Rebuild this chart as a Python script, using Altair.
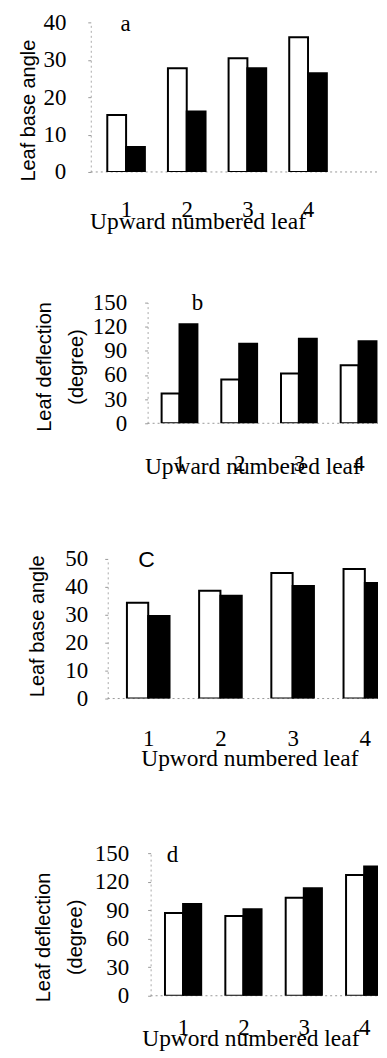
import altair as alt
import pandas as pd

leaves = [1, 2, 3, 4]
series = ["open", "filled"]

# panel a: leaf base angle
a_open = [15.2, 27.7, 30.4, 36.0]
a_filled = [6.7, 16.2, 27.7, 26.4]
# panel b: leaf deflection (degree)
b_open = [37, 54.5, 62, 72]
b_filled = [123, 99, 105, 102]
# panel c: leaf base angle
c_open = [34.3, 38.6, 45.0, 46.4]
c_filled = [29.6, 36.8, 40.3, 41.4]
# panel d: leaf deflection (degree)
d_open = [87, 84, 103, 127]
d_filled = [96.5, 91, 113, 136]

a_ticks = [0, 10, 20, 30, 40]
b_ticks = [0, 30, 60, 90, 120, 150]
c_ticks = [0, 10, 20, 30, 40, 50]
d_ticks = [0, 30, 60, 90, 120, 150]

SERIF = "Liberation Serif"
SANS = "Liberation Sans"
W = 288      # common plot width (all panels' plot areas start at the same x)
LEFT = 90    # page x of the common plot origin


def panel(open_vals, filled_vals, ticks, ymax, cfg):
    df = pd.DataFrame({
        "leaf": leaves * 2,
        "series": [series[0]] * 4 + [series[1]] * 4,
        "value": open_vals + filled_vals,
    })
    dx = cfg["plotx"] - LEFT
    step, g, c1 = cfg["step"], cfg["g"], cfg["c1"]
    xdom = [1 - (c1 - LEFT) / step, 1 + (LEFT + W - c1) / step]
    xscale = alt.Scale(domain=xdom, nice=False, zero=False)
    yscale = alt.Scale(domain=[0, ymax], nice=False, zero=True)
    xaxis = alt.Axis(
        title=cfg["xtitle"], values=leaves, format="d", labelAngle=0, ticks=False, domain=False,
        labelFlush=False, labelOverlap=False,
        labelPadding=cfg["xlp"], labelFont=SERIF, labelFontSize=23, labelColor="black",
        titleFont=SERIF, titleFontSize=23.5, titleFontWeight="normal", titleColor="black",
        titleX=cfg["tx"] - LEFT, titleY=cfg["ty"], titleAlign="center", titleBaseline="alphabetic",
    )
    yaxis = alt.Axis(
        values=ticks, offset=-dx, tickSize=3, tickColor="#999", domainColor="#aaa",
        domainDash=[2, 3], labelOverlap=False, labelFlush=False,
        labelPadding=cfg["ylp"], labelFont=SERIF, labelFontSize=23, labelColor="black",
        title=cfg["ytitle"], titleFont=SANS, titleFontSize=20, titleFontWeight="normal",
        titleColor="black", titleX=cfg["yx"], titleY=cfg["yy"], titleAngle=270,
        titleAlign="center", titleBaseline="alphabetic", titleLineHeight=32,
    )
    bars = alt.Chart(df).transform_calculate(
        x0=f"datum.leaf - (datum.series == 'open' ? {g / 2} : 0)",
        x1=f"datum.leaf + (datum.series == 'open' ? 0 : {g / 2})",
    ).mark_bar(clip=True, stroke="black", strokeWidth=2, orient="vertical").encode(
        x=alt.X("x0:Q", scale=xscale, axis=xaxis),
        x2="x1:Q",
        y=alt.Y("value:Q", scale=yscale, axis=yaxis),
        y2=alt.datum(0),
        fill=alt.Fill("series:N", scale=alt.Scale(domain=series, range=["white", "black"]), legend=None),
    )
    base = alt.Chart(pd.DataFrame({"v": [0]})).mark_rule(
        color="#999", strokeDash=[2, 3], strokeWidth=1
    ).encode(y=alt.Y("v:Q", scale=yscale, axis=yaxis), x=alt.value(dx), x2=alt.value(W))
    lab = alt.Chart(pd.DataFrame({"t": [cfg["label"]]})).mark_text(
        font=cfg["lfont"], fontSize=23, color="black", baseline="middle", align="center"
    ).encode(text="t:N", x=alt.value(cfg["lx"] - LEFT), y=alt.value(cfg["ly"]))
    spacer = alt.Chart(pd.DataFrame({"s": [0]})).mark_rule(color="white", strokeWidth=0.5).encode(
        x=alt.value(8 - LEFT), y=alt.value(cfg["ry1"]), y2=alt.value(cfg["ry2"])
    )
    return alt.layer(spacer, base, bars, lab).properties(width=W, height=cfg["h"])


pa = panel(a_open, a_filled, a_ticks, 40, dict(
    plotx=90, step=63, g=0.62, c1=121.5, h=150,
    xtitle="Upward numbered leaf", xlp=27, tx=197, ty=57,
    ylp=22, ytitle="Leaf base angle", yx=-56, yy=88,
    label="a", lfont=SERIF, lx=125, ly=2,
    ry1=-12, ry2=227,
))
pb = panel(b_open, b_filled, b_ticks, 150, dict(
    plotx=147, step=62, g=0.6, c1=177, h=121,
    xtitle="Upward numbered leaf", xlp=29, tx=252, ty=50,
    ylp=18, ytitle=["Leaf deflection", "(degree)"], yx=-97, yy=64,
    label="b", lfont=SERIF, lx=197, ly=0,
    ry1=-52, ry2=215.5,
))
pc = panel(c_open, c_filled, c_ticks, 50, dict(
    plotx=107, step=75, g=0.59, c1=144.5, h=140,
    xtitle="Upword numbered leaf", xlp=29, tx=249, ty=67,
    ylp=17, ytitle="Leaf base angle", yx=-64, yy=67,
    label="C", lfont=SANS, lx=146, ly=1,
    ry1=-40, ry2=238.5,
))
pd_ = panel(d_open, d_filled, d_ticks, 150, dict(
    plotx=150, step=62.7, g=0.6, c1=180.7, h=143,
    xtitle="Upword numbered leaf", xlp=21, tx=250, ty=50,
    ylp=19, ytitle=["Leaf deflection", "(degree)"], yx=-101, yy=84,
    label="d", lfont=SERIF, lx=172, ly=2,
    ry1=-55, ry2=193,
))

chart = alt.vconcat(pa, pb, pc, pd_, spacing=0, padding=0).configure_view(
    stroke=None
).configure_axis(grid=False)

chart.save("out.html", embed_options={"renderer": "svg", "actions": False})
